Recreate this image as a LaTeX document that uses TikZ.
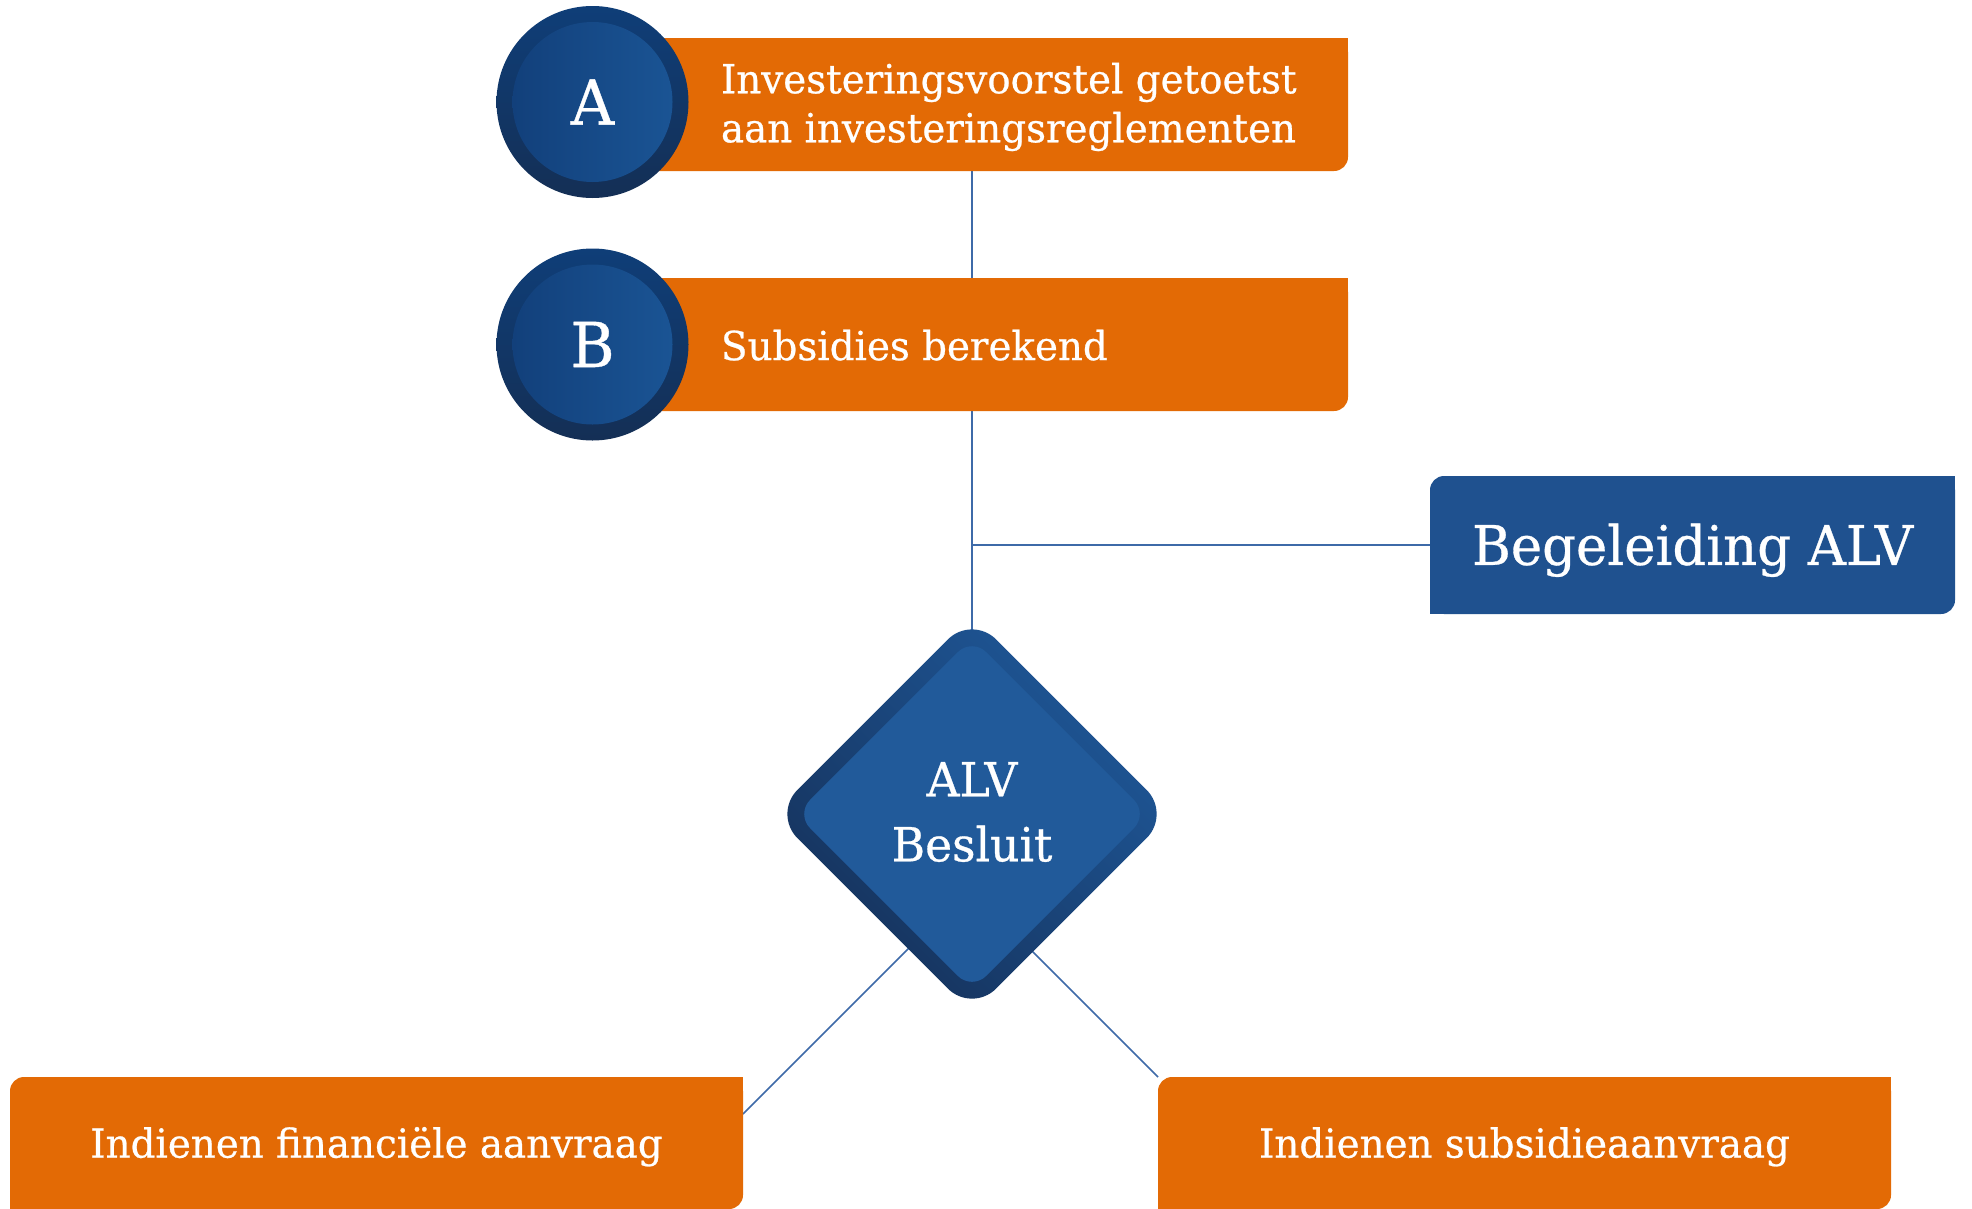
\documentclass[tikz,border=0pt]{standalone}
\usepackage{fontspec}
\newfontfamily\slab[FakeStretch=0.97,FakeBold=0.6]{DejaVu Serif}
\usetikzlibrary{backgrounds}
\definecolor{org}{HTML}{E36A05}
\definecolor{bbx}{HTML}{1F518F}
\definecolor{dinner}{HTML}{215A9A}
\definecolor{dringA}{HTML}{1F5899}
\definecolor{dringB}{HTML}{15315A}
\definecolor{cinnerA}{HTML}{12407B}
\definecolor{cinnerB}{HTML}{1A5494}
\definecolor{cringA}{HTML}{0F3E78}
\definecolor{cringB}{HTML}{142F55}
\definecolor{lin}{HTML}{3E6AA8}
\begin{document}
\begin{tikzpicture}[x=1pt,y=-1pt,
  conn/.style={draw=lin, line width=1.5pt},
  obox/.style={rectangle, fill=org, rounded corners=14pt, inner sep=0pt, outer sep=0pt},
  bluebox/.style={rectangle, fill=bbx, rounded corners=14pt, inner sep=0pt, outer sep=0pt},
  wtxt/.style={text=white, inner sep=0pt, outer sep=0pt},
  body/.style={wtxt, font=\slab\fontsize{40}{49}\selectfont},
  one/.style={text height=29.2pt, text depth=0pt},
  ring/.style={circle, minimum size=192pt, inner sep=0pt, outer sep=0pt, top color=cringA, bottom color=cringB},
  disc/.style={circle, minimum size=160pt, inner sep=0pt, outer sep=0pt, left color=cinnerA, right color=cinnerB, text=white, font=\slab\fontsize{62}{62}\selectfont, text height=45.2pt, text depth=0pt},
]
\useasboundingbox (0,0) rectangle (1972,1208);

% boxes
\node[obox, minimum width=708pt, minimum height=133pt] (boxA) at (994,104.5) {};
\node[obox, minimum width=708pt, minimum height=133pt] (boxB) at (994,344.5) {};
\node[bluebox, minimum width=525pt, minimum height=138pt, text=white, font=\slab\fontsize{54.5}{60}\selectfont, text height=39.7pt, text depth=0pt] (beg) at (1692.5,545) {Begeleiding ALV};
\node[obox, minimum width=733pt, minimum height=132pt, body, one] (fin) at (376.5,1143) {Indienen financiële aanvraag};
\node[obox, minimum width=733pt, minimum height=132pt, body, one] (sub) at (1524.5,1143) {Indienen subsidieaanvraag};

% sharp corners
\fill[org] (boxA.north east) rectangle ++(-20,20);
\fill[org] (boxB.north east) rectangle ++(-20,20);
\fill[bbx] (beg.north east) rectangle ++(-20,20);
\fill[bbx] (beg.south west) rectangle ++(20,-20);
\fill[org] (fin.north east) rectangle ++(-20,20);
\fill[org] (fin.south west) rectangle ++(20,-20);
\fill[org] (sub.north east) rectangle ++(-20,20);
\fill[org] (sub.south west) rectangle ++(20,-20);

% circles
\node[ring] (ringA) at (592.5,102) {};
\node[disc] (circA) at (ringA) {A};
\node[ring] (ringB) at (592.5,344.5) {};
\node[disc] (circB) at (ringB) {B};

% texts in orange boxes
\node[body, align=left, anchor=west] (txtA) at (721,107) {Investeringsvoorstel getoetst\\aan investeringsreglementen};
\node[body, one, anchor=west] (txtB) at (721,345.5) {Subsidies berekend};

% diamond
\node[rectangle, rotate=45, minimum size=281pt, inner sep=0pt, outer sep=0pt, rounded corners=34pt, top color=dringA, bottom color=dringB, shading angle=-45] (alvring) at (972,814) {};
\node[rectangle, rotate=45, minimum size=249pt, inner sep=0pt, outer sep=0pt, rounded corners=20pt, fill=dinner] (alv) at (alvring) {};
\node[wtxt, align=center, font=\slab\fontsize{47}{65}\selectfont] (alvtxt) at (972,812) {ALV\\Besluit};

% connectors
\begin{scope}[on background layer]
\fill[white] (0,0) rectangle (1972,1208);
\draw[conn] (boxA.south -| alv.center) -- (alv.center);
\draw[conn] (alv.center |- beg.west) -- (beg.west);
\coordinate (dl) at (938,919);
\coordinate (dr) at (1003,922);
\draw[conn] ([yshift=-37pt]fin.north east) -- (dl);
\draw[conn] (sub.north west) -- (dr);
\end{scope}
\end{tikzpicture}
\end{document}
